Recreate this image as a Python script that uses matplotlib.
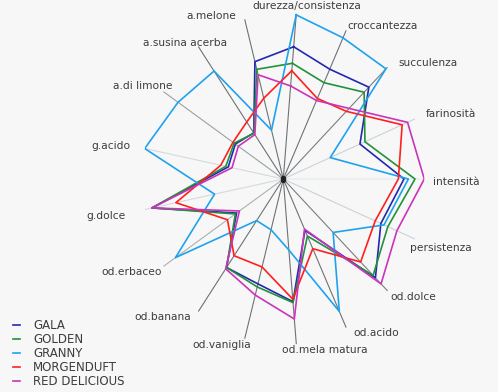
import numpy as np
import matplotlib
matplotlib.use("Agg")
import matplotlib.pyplot as plt

labels = ["durezza/consistenza", "croccantezza", "succulenza", "farinosità", "intensità",
          "persistenza", "od.dolce", "od.acido", "od.mela matura", "od.vaniglia",
          "od.banana", "od.erbaceo", "g.dolce", "g.acido", "a.di limone",
          "a.susina acerba", "a.melone"]

gala = [8.0, 7.39, 8.21, 5.83, 8.56, 7.42, 8.84, 3.45, 7.42, 6.57, 6.68, 3.9, 9.48, 3.97, 4.0, 3.48, 7.35]
golden = [7.0, 6.48, 7.76, 6.21, 9.34, 7.95, 8.62, 3.84, 7.48, 6.76, 6.68, 4.0, 9.48, 4.15, 4.1, 3.45, 6.87]
granny = [9.93, 9.5, 9.85, 3.57, 8.87, 7.66, 4.78, 8.91, 4.3, 3.18, 3.14, 9.0, 4.96, 10.0, 8.78, 8.15, 3.06]
morgenduft = [6.55, 5.42, 6.05, 9.04, 8.16, 6.99, 7.42, 4.69, 7.27, 5.51, 5.79, 4.66, 7.75, 4.51, 4.2, 4.3, 5.06]
red_delicious = [5.63, 5.28, 6.31, 9.45, 10.0, 8.64, 9.38, 3.37, 8.47, 7.27, 6.78, 3.66, 9.48, 3.7, 3.75, 3.35, 6.53]

series_names = ["GALA", "GOLDEN", "GRANNY", "MORGENDUFT", "RED DELICIOUS"]
series_values = [gala, golden, granny, morgenduft, red_delicious]
series_colors = ["#2228b0", "#23913a", "#1fa2ee", "#ff1f1f", "#cc33bb"]

# label offsets in pixels (layout only)
label_offsets = [(11, 8), (36, 4), (41, 4), (36, 5), (32, -3), (26, -9), (26, -6), (30, -5),
                 (28, -6), (-23, -6), (-36, -6), (-32, -6), (-39, -6), (-34, 3), (-21, 6),
                 (-13, 4), (-33, 3)]
spoke_colors = ["#6e7274", "#6e7274", "#7a7e80", "#c9d3d7", "#e3e9eb", "#c9d3d7", "#7a7e80",
                "#6e7274", "#6e7274", "#6e7274", "#6e7274", "#aab2b5", "#d3dadd", "#d3dadd",
                "#9aa2a5", "#6e7274", "#6e7274"]

RMAX = 10.0
n = len(labels)
theta = np.deg2rad(5.29 + np.arange(n) * 360.0 / n)

fig = plt.figure(figsize=(4.98, 3.92), dpi=100)
bg = "#f7f7f7"
fig.patch.set_facecolor(bg)
ax = fig.add_axes([142.3 / 498, 47 / 392, 282 / 498, 332 / 392], projection="polar")
ax.set_theta_zero_location("N")
ax.set_theta_direction(-1)
ax.set_ylim(0, RMAX)
ax.set_facecolor("none")
ax.axis("off")

for t, c in zip(theta, spoke_colors):
    ax.plot([t, t], [0, RMAX], color=c, lw=0.8, zorder=1)

for lab, t, off in zip(labels, theta, label_offsets):
    ax.annotate(lab, xy=(t, RMAX), xytext=off, textcoords="offset pixels",
                ha="center", va="center", fontsize=7.7, color="#3c3c3c",
                family="DejaVu Sans", annotation_clip=False)

tt = np.append(theta, theta[0])
handles = []
for name, vals, col in zip(series_names, series_values, series_colors):
    v = np.append(vals, vals[0])
    h, = ax.plot(tt, v, color=col, lw=1.2, label=name, zorder=3)
    handles.append(h)

ax.plot([0], [0], marker="s", ms=2.2, color="#222222", zorder=4)

ax.set_aspect("auto")

fig.legend(handles=handles, labels=series_names, loc="lower left",
           bbox_to_anchor=(13 / 498, 4 / 392), frameon=False, fontsize=8.5,
           handlelength=0.6, handletextpad=1.1, labelspacing=0.08, borderpad=0,
           borderaxespad=0, labelcolor="#3c3c3c")

fig.savefig("out.png", dpi=100, facecolor=bg)
